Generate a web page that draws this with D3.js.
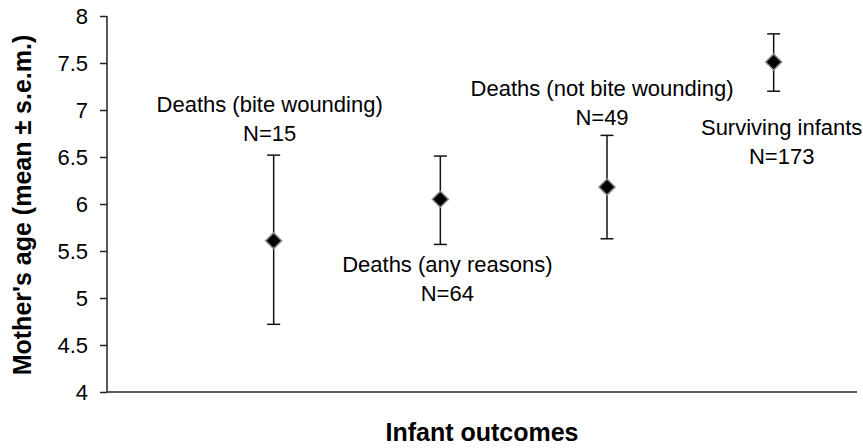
<!DOCTYPE html>
<html>
<head>
<meta charset="utf-8">
<script src="https://cdn.jsdelivr.net/npm/d3@7"></script>
<style>
  body { margin: 0; background: #fff; }
  svg { display: block; font-family: "Liberation Sans", Arial, sans-serif; }
</style>
</head>
<body>
<div id="chart"></div>
<script>
// datos
var categories = ["Deaths (bite wounding)", "Deaths (any reasons)", "Deaths (not bite wounding)", "Surviving infants"];
var sampleSizes = [15, 64, 49, 173];
var means = [5.61, 6.05, 6.18, 7.51];
var upper = [6.52, 6.51, 6.73, 7.81];
var lower = [4.72, 5.57, 5.63, 7.20];
var yTicks = [4, 4.5, 5, 5.5, 6, 6.5, 7, 7.5, 8];

var width = 863, height = 448;
var margin = {left: 107, right: 6, top: 16, bottom: 56};

var svg = d3.select("#chart").append("svg")
    .attr("width", width)
    .attr("height", height);

// escalas
var x = d3.scaleLinear().domain([0, 4.5]).range([margin.left, width - margin.right]);
var y = d3.scaleLinear().domain([4, 8]).range([height - margin.bottom, margin.top]);

var data = categories.map(function(c, i) {
    return {name: c, n: sampleSizes[i], mean: means[i], hi: upper[i], lo: lower[i], pos: i + 1};
});

// eje y
var yAxis = svg.append("g")
    .attr("transform", "translate(" + margin.left + ",0)")
    .call(d3.axisLeft(y).tickValues(yTicks).tickSize(7).tickPadding(12)
        .tickFormat(function(d) { return d3.format("")(d); }));
yAxis.selectAll("path, line").attr("stroke", "#222").attr("stroke-width", 1.5);
yAxis.select(".domain").attr("d", "M0," + y(8) + "V" + y(4));
yAxis.selectAll("text").attr("font-size", 22).attr("fill", "#000")
    .attr("font-family", "Liberation Sans, Arial, sans-serif").attr("dy", "0.36em");

// eje x (sin marcas)
svg.append("line")
    .attr("x1", x(0)).attr("x2", x(4.5))
    .attr("y1", y(4)).attr("y2", y(4))
    .attr("stroke", "#222").attr("stroke-width", 1.5);

// barras de error
var g = svg.append("g");
g.selectAll(".err")
    .data(data).enter().append("line")
    .attr("class", "err")
    .attr("x1", d => x(d.pos)).attr("x2", d => x(d.pos))
    .attr("y1", d => y(d.hi)).attr("y2", d => y(d.lo))
    .attr("stroke", "#111").attr("stroke-width", 1.5);

["hi", "lo"].forEach(function(k) {
    g.selectAll(".cap-" + k)
        .data(data).enter().append("line")
        .attr("x1", d => x(d.pos) - 6.5).attr("x2", d => x(d.pos) + 6.5)
        .attr("y1", d => y(d[k])).attr("y2", d => y(d[k]))
        .attr("stroke", "#111").attr("stroke-width", 1.5);
});

// rombos
var r = 8;
g.selectAll(".pt")
    .data(data).enter().append("path")
    .attr("class", "pt")
    .attr("d", function(d) {
        var cx = x(d.pos), cy = y(d.mean);
        return "M" + cx + "," + (cy - r) + "L" + (cx + r) + "," + cy +
               "L" + cx + "," + (cy + r) + "L" + (cx - r) + "," + cy + "Z";
    })
    .attr("fill", "#000").attr("stroke", "#8a8a8a").attr("stroke-width", 1.5);

// etiquetas: arriba o abajo de la barra de error
var placement = [
    {above: true, dx: -4, gap: 14},
    {above: false, dx: 7, gap: 28},
    {above: true, dx: -5, gap: 10},
    {above: false, dx: 8, gap: 44}
];
var lh = 29;
data.forEach(function(d, i) {
    var p = placement[i];
    var cx = x(d.pos) + p.dx;
    var b1, b2;
    if (p.above) {
        b2 = y(d.hi) - p.gap;
        b1 = b2 - lh;
    } else {
        b1 = y(d.lo) + p.gap;
        b2 = b1 + lh;
    }
    var t = svg.append("g").attr("font-size", 22).attr("text-anchor", "middle").attr("fill", "#000");
    t.append("text").attr("x", cx).attr("y", b1).text(d.name);
    t.append("text").attr("x", cx).attr("y", b2).text("N=" + d.n);
});

// titulos de ejes
svg.append("text")
    .attr("x", 482).attr("y", 441)
    .attr("text-anchor", "middle")
    .attr("font-size", 25).attr("font-weight", "bold")
    .text("Infant outcomes");

svg.append("text")
    .attr("transform", "translate(31," + 205 + ") rotate(-90)")
    .attr("text-anchor", "middle")
    .attr("font-size", 25).attr("font-weight", "bold")
    .text("Mother's age (mean \u00b1 s.e.m.)");
</script>
</body>
</html>
